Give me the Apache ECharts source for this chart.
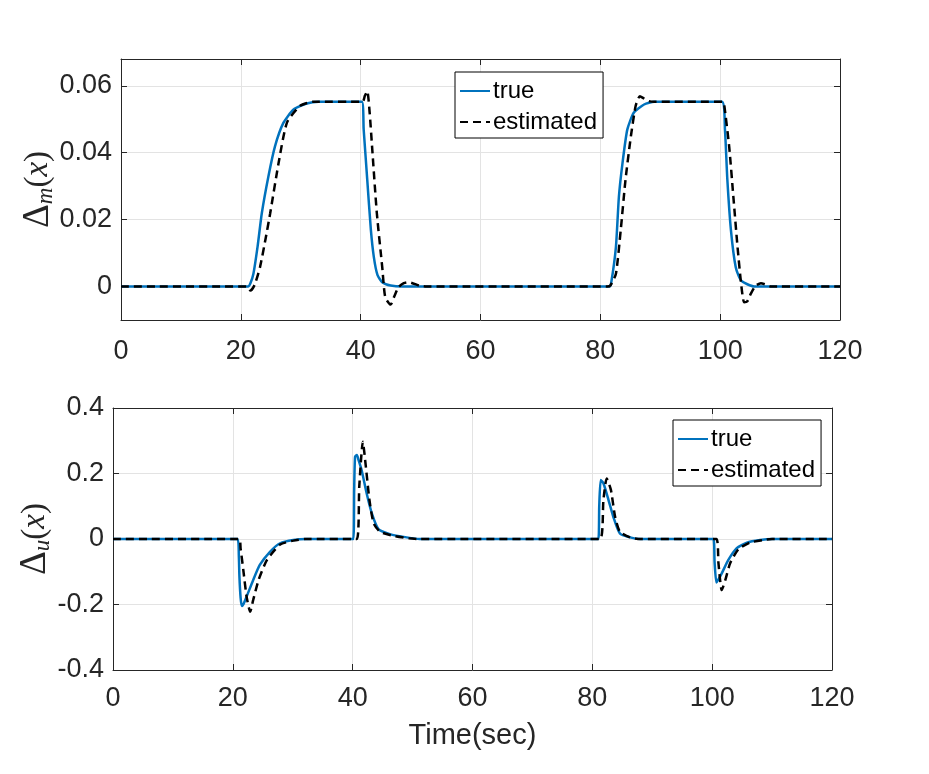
<!DOCTYPE html>
<html>
<head>
<meta charset="utf-8">
<script src="https://cdn.jsdelivr.net/npm/echarts@6.0.0/dist/echarts.min.js"></script>
<style>
html,body{margin:0;padding:0;background:#fff;}
#main{width:929px;height:774px;}
</style>
</head>
<body>
<div id="main"></div>
<script>
// ---- data (time in sec, value) ----
const xTicks = [0, 20, 40, 60, 80, 100, 120];
const yTicksTop = [0, 0.02, 0.04, 0.06];
const yTicksBottom = [-0.4, -0.2, 0, 0.2, 0.4];
const seriesNames = ['true', 'estimated'];

const dmTrue = [[0,0],[21.2,0],[21.6,0.001],[22.1,0.0038],[22.8,0.012],[23.5,0.0219],[24.6,0.0329],[25.7,0.0419],[27.1,0.0489],[28.8,0.0529],[31.0,0.0547],[33,0.0552],[40.2,0.0552],[40.5,0.047],[41.1,0.0319],[41.7,0.017],[42.2,0.0088],[42.8,0.0035],[43.6,0.0013],[45,0.0003],[47,0],[81.5,0],[81.8,0.001],[82.6,0.0118],[83.1,0.0269],[83.7,0.0369],[84.5,0.0469],[85.6,0.052],[87.3,0.0544],[89.0,0.0552],[100.3,0.0552],[100.8,0.0469],[101.2,0.0319],[101.8,0.0168],[102.6,0.0058],[103.5,0.0018],[105.7,0],[120,0]];
const dmEst = [[0,0],[21.0,0],[21.6,-0.0012],[22.3,0.0005],[23.2,0.0058],[24.1,0.014],[24.9,0.0219],[26.3,0.0369],[27.7,0.049],[29.9,0.054],[32,0.0552],[40.3,0.0552],[40.7,0.057],[41.1,0.0584],[41.5,0.052],[41.9,0.0419],[42.7,0.0219],[43.6,0.0058],[44.1,-0.0032],[45.0,-0.0054],[45.6,-0.003],[46.3,-0.0002],[47.2,0.001],[48.0,0.0013],[49.9,0.0002],[51,0],[81.2,0],[81.7,0.0004],[82.6,0.0038],[83.4,0.0168],[84.2,0.0319],[85.1,0.0449],[85.9,0.054],[86.6,0.0569],[87.3,0.0562],[88.1,0.0554],[89,0.0552],[100.5,0.0552],[100.7,0.054],[101.5,0.0419],[102.2,0.0269],[102.9,0.0118],[103.5,0.0008],[104.0,-0.0047],[104.5,-0.0045],[105.1,-0.0022],[105.9,0.0002],[106.8,0.001],[107.6,0.0006],[108.5,0],[120,0]];
const duTrue = [[0,0],[20.8,0],[21.0,-0.05],[21.1,-0.115],[21.3,-0.18],[21.5,-0.2045],[21.8,-0.198],[22.3,-0.176],[23.4,-0.125],[24.5,-0.079],[26.2,-0.039],[27.9,-0.013],[30.1,-0.003],[32.3,0],[40.1,0],[40.25,0.15],[40.4,0.251],[40.7,0.2565],[41.0,0.24],[41.5,0.21],[42.35,0.138],[43.2,0.078],[44.3,0.03],[46.2,0.015],[49.0,0.005],[51.2,0],[81.0,0],[81.15,0.1],[81.4,0.18],[81.85,0.17],[82.7,0.119],[83.5,0.068],[84.6,0.017],[86.3,0.005],[88,0],[100.2,0],[100.4,-0.07],[100.7,-0.133],[101.0,-0.125],[101.6,-0.105],[102.7,-0.064],[104.1,-0.028],[105.8,-0.011],[108,-0.003],[110,0],[120,0]];
const duEst = [[0,0],[21.0,0],[21.3,-0.03],[21.75,-0.095],[22.3,-0.176],[22.9,-0.222],[23.4,-0.186],[24.3,-0.125],[25.7,-0.064],[27.9,-0.017],[30.1,-0.005],[32,0],[40.7,0],[41.1,0.16],[41.7,0.297],[42.2,0.221],[42.8,0.119],[43.5,0.048],[44.6,0.022],[46.7,0.01],[49.4,0.002],[51,0],[81.3,0],[81.85,0.119],[82.4,0.185],[83.1,0.15],[83.8,0.068],[84.6,0.022],[86.3,0.005],[88,0],[100.7,0],[101.05,-0.074],[101.6,-0.156],[102.2,-0.125],[103.0,-0.074],[104.4,-0.031],[106.3,-0.011],[108.5,-0.003],[110,0],[120,0]];

// ---- styling ----
const FONT = 'Liberation Sans, Arial, sans-serif';
const SERIF = 'Liberation Serif, Times New Roman, serif';
const AX = '#262626';
const GRID = '#e3e3e3';
const BLUE = '#0072BD';
const TICKFS = 27;

function xAx(grid, pos, labels, margin, extra) {
  return Object.assign({
    gridIndex: grid, type: 'value', min: 0, max: 120, interval: 20, position: pos,
    axisLine: {show: true, onZero: false, lineStyle: {color: AX, width: 1}},
    axisTick: {show: true, inside: true, length: 6, lineStyle: {color: AX}},
    axisLabel: {show: labels, fontSize: TICKFS, color: AX, fontFamily: FONT, margin: margin},
    splitLine: {show: labels, lineStyle: {color: GRID, width: 1}}
  }, extra || {});
}
function yAx(grid, pos, labels, extra) {
  return Object.assign({
    gridIndex: grid, type: 'value', position: pos,
    axisLine: {show: true, onZero: false, lineStyle: {color: AX, width: 1}},
    axisTick: {show: true, inside: true, length: 6, lineStyle: {color: AX}},
    axisLabel: {show: labels, fontSize: TICKFS, color: AX, fontFamily: FONT, margin: 9},
    splitLine: {show: labels, lineStyle: {color: GRID, width: 1}}
  }, extra || {});
}

const richName = {
  d: {fontFamily: SERIF, fontSize: 37, color: AX, lineHeight: 38, verticalAlign: 'middle'},
  s: {fontFamily: SERIF, fontStyle: 'italic', fontSize: 23, color: AX, lineHeight: 20, verticalAlign: 'bottom'},
  p: {fontFamily: SERIF, fontSize: 33, color: AX, lineHeight: 38, verticalAlign: 'middle'},
  i: {fontFamily: SERIF, fontStyle: 'italic', fontSize: 33, color: AX, lineHeight: 38, verticalAlign: 'middle'}
};

const topY = yAx(0, 'left', true, {
  min: -0.01, max: 0.068,
  name: '{d|Δ}{s|m}{p|(}{i|x}{p|)}', nameLocation: 'middle', nameRotate: 90, nameGap: 64,
  nameMoveOverlap: false,
  nameTextStyle: {rich: richName}
});
topY.axisTick.customValues = yTicksTop;
topY.axisLabel.customValues = yTicksTop;
topY.axisLabel.formatter = v => (Math.abs(v) < 1e-9 ? '0' : v.toFixed(2));
const topYR = yAx(0, 'right', false, {min: -0.01, max: 0.068});
topYR.axisTick.customValues = yTicksTop;

const botY = yAx(1, 'left', true, {
  min: yTicksBottom[0], max: yTicksBottom[yTicksBottom.length - 1], interval: 0.2,
  name: '{d|Δ}{s|u}{p|(}{i|x}{p|)}', nameLocation: 'middle', nameRotate: 90, nameGap: 59,
  nameMoveOverlap: false,
  nameTextStyle: {rich: richName}
});
botY.axisLabel.formatter = v => (Math.abs(v) < 1e-9 ? '0' : v.toFixed(1));
const botYR = yAx(1, 'right', false, {min: -0.4, max: 0.4, interval: 0.2});

function lineSeries(name, data, xi, yi, dashed) {
  return {
    name: name, type: 'line', data: data, xAxisIndex: xi, yAxisIndex: yi,
    symbol: 'none', smooth: 0.2,
    lineStyle: dashed ? {color: '#000', width: 2.5, type: [8, 5]} : {color: BLUE, width: 2.5},
    itemStyle: {color: dashed ? '#000' : BLUE},
    z: dashed ? 3 : 2, animation: false
  };
}

const legendBase = {
  orient: 'vertical', data: seriesNames,
  backgroundColor: '#fff', borderColor: '#000', borderWidth: 1, borderRadius: 0,
  itemWidth: 30, itemHeight: 14, itemGap: 7,
  itemStyle: {opacity: 0},
  textStyle: {fontSize: 24, color: '#000', fontFamily: FONT, lineHeight: 24, padding: [0, 0, 0, -2]},
  selectedMode: false
};

const option = {
  backgroundColor: '#fff',
  animation: false,
  grid: [
    {left: 121, top: 59, width: 719, height: 261, outerBoundsMode: 'none'},
    {left: 113, top: 408, width: 719, height: 262, outerBoundsMode: 'none'}
  ],
  xAxis: [
    xAx(0, 'bottom', true, 18),
    xAx(0, 'top', false, 8),
    xAx(1, 'bottom', true, 15, {name: 'Time(sec)', nameLocation: 'middle', nameGap: 51,
      nameMoveOverlap: false,
      nameTextStyle: {fontSize: 29, color: AX, fontFamily: FONT}}),
    xAx(1, 'top', false, 8)
  ],
  yAxis: [topY, topYR, botY, botYR],
  legend: [
    Object.assign({}, legendBase, {left: 455, top: 72, padding: [7, 6, 4, 4]}),
    Object.assign({}, legendBase, {left: 673, top: 420, padding: [7, 6, 4, 4]})
  ],
  series: [
    lineSeries('true', dmTrue, 0, 0, false),
    lineSeries('estimated', dmEst, 0, 0, true),
    lineSeries('true', duTrue, 2, 2, false),
    lineSeries('estimated', duEst, 2, 2, true)
  ]
};

const chart = echarts.init(document.getElementById('main'), null, {renderer: 'canvas'});
chart.setOption(option);
</script>
</body>
</html>
